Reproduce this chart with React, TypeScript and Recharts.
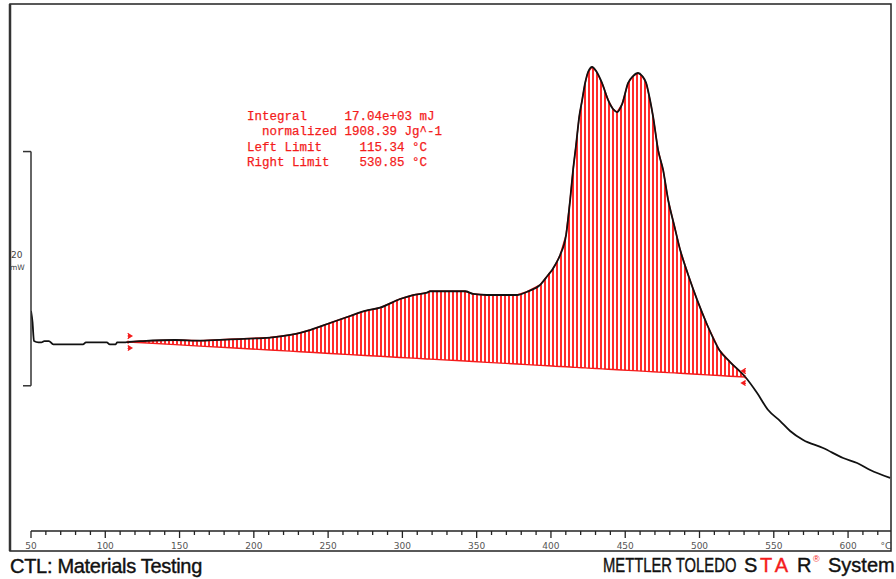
import React from 'react';
import {
  ComposedChart,
  Line,
  Area,
  XAxis,
  YAxis,
  ReferenceLine,
  ReferenceDot,
} from 'recharts';

// Temperature (°C)
const temperature = [
  50, 51, 52, 55, 57, 59, 62, 65, 85, 87,
  101, 103, 107, 108, 113, 115.34,
  125.4, 147.0, 163.8, 184.0, 210.9, 224.4, 231.1, 237.8, 251.3, 264.8,
  274.9, 285.0, 298.4, 307.2, 316.6, 318.6, 342.2, 347.6, 357.0, 377.2,
  383.9, 392.7, 398.1, 400.8, 402.8, 406.2, 410.2, 412.9, 414.9, 416.9,
  419.0, 421.0, 423.0, 425.0, 427.7, 430.4, 434.4, 438.5, 441.8, 444.5,
  447.9, 451.9, 455.3, 458.6, 461.4, 464.1, 466.7, 468.8, 472.1, 475.5,
  478.9, 482.9, 487.0, 492.4, 498.4, 505.2, 513.3, 520.6, 530.85,
  538.8, 546.2, 554.3, 561.0, 569.8, 583.2, 596.7, 606.1, 614.9, 628.3,
];

// DSC heat flow (mW, arbitrary offset)
const heatFlow = [
  18.79, 17.85, 16.22, 16.11, 16.11, 16.22, 16.22, 15.94, 15.94, 16.11,
  16.11, 15.93, 15.94, 16.11, 16.11, 16.14,
  16.22, 16.31, 16.25, 16.37, 16.52, 16.74, 16.91, 17.16, 17.76, 18.36,
  18.79, 19.07, 19.81, 20.15, 20.35, 20.47, 20.47, 20.24, 20.15, 20.15,
  20.43, 21.01, 21.86, 22.29, 22.71, 23.57, 25.28, 28.26, 30.83, 32.96,
  35.35, 36.8, 38.25, 39.19, 39.62, 39.28, 38.25, 36.8, 36.03, 35.77,
  36.45, 38.25, 38.85, 39.11, 38.85, 38.25, 36.8, 35.35, 32.54, 30.83,
  28.26, 26.13, 23.99, 21.86, 19.73, 17.59, 15.46, 14.43, 13.15,
  11.78, 10.33, 9.39, 8.54, 7.77, 7.09, 6.23, 5.81, 5.21, 4.53,
];

// Integration baseline (mW), only between the left and right limits
const baseline: (number | null)[] = [
  null, null, null, null, null, null, null, null, null, null,
  null, null, null, null, null, 16.14,
  16.07, 15.91, 15.79, 15.65, 15.45, 15.36, 15.31, 15.26, 15.16, 15.06,
  14.99, 14.92, 14.82, 14.76, 14.69, 14.68, 14.51, 14.47, 14.40, 14.26,
  14.21, 14.14, 14.11, 14.09, 14.07, 14.05, 14.02, 14.00, 13.98, 13.97,
  13.95, 13.94, 13.93, 13.91, 13.89, 13.87, 13.84, 13.81, 13.79, 13.77,
  13.75, 13.72, 13.69, 13.67, 13.65, 13.63, 13.61, 13.60, 13.57, 13.55,
  13.52, 13.50, 13.47, 13.43, 13.38, 13.33, 13.28, 13.22, 13.15,
  null, null, null, null, null, null, null, null, null, null,
];

const xTicks = [
  50, 60, 70, 80, 90, 100, 110, 120, 130, 140, 150, 160, 170, 180, 190, 200,
  210, 220, 230, 240, 250, 260, 270, 280, 290, 300, 310, 320, 330, 340, 350,
  360, 370, 380, 390, 400, 410, 420, 430, 440, 450, 460, 470, 480, 490, 500,
  510, 520, 530, 540, 550, 560, 570, 580, 590, 600, 610, 620,
];

const leftLimit = { t: 115.34, v: 16.14 };
const rightLimit = { t: 530.85, v: 13.15 };
const scaleBar = { low: 12.4, high: 32.4, label: ['20', 'mW'] };

const annotation = [
  'Integral     17.04e+03 mJ',
  '  normalized 1908.39 Jg^-1',
  'Left Limit     115.34 °C',
  'Right Limit    530.85 °C',
];

const data = temperature.map((t, i) => ({
  t,
  hf: heatFlow[i],
  range: baseline[i] == null ? null : [baseline[i] as number, heatFlow[i]],
}));

const RED = '#f41c1c';

const AxisTick = (props: any) => {
  const { x, y, payload } = props;
  const v = payload.value as number;
  const major = v % 50 === 0;
  return (
    <g>
      <line x1={x} x2={x} y1={y} y2={y + (major ? 7 : 4)} stroke="#222" strokeWidth={1.3} />
      {major && (
        <text x={x} y={y + 18} textAnchor="middle" fontSize={9} fill="#555" fontFamily="DejaVu Sans">
          {v}
        </text>
      )}
      {v === 620 && (
        <text x={x + 8} y={y + 18} textAnchor="middle" fontSize={9} fill="#555" fontFamily="DejaVu Sans">
          °C
        </text>
      )}
    </g>
  );
};

const makeMarker = (dir: number) => (p: any) => {
  const { cx, cy } = p;
  return (
    <g fill={RED} stroke="none">
      <polygon points={`${cx},${cy - 9} ${cx + 5 * dir},${cy - 6} ${cx},${cy - 3}`} />
      <polygon points={`${cx},${cy + 3} ${cx + 5 * dir},${cy + 6} ${cx},${cy + 9}`} />
      <line x1={cx} x2={cx} y1={cy - 9} y2={cy + 9} stroke={RED} strokeWidth={1} strokeDasharray="1 1.5" />
    </g>
  );
};

const captionStyle = {
  fontSize: 20,
  fontFamily: 'Liberation Sans, Arial',
  strokeWidth: 0.4,
};

export default function App() {
  return (
    <div style={{ position: 'absolute', left: 0, top: 0, width: 896, height: 579, background: '#fff' }}>
      <ComposedChart
        width={896}
        height={579}
        data={data}
        margin={{ top: 4, right: 5, left: 31, bottom: 28 }}
      >
        <defs>
          <pattern id="hatch" width="4" height="8" patternUnits="userSpaceOnUse">
            <rect x="0" y="0" width="2" height="8" fill="#ff2b2b" />
          </pattern>
        </defs>
        <XAxis
          type="number"
          dataKey="t"
          domain={[50, 628.9]}
          ticks={xTicks}
          interval={0}
          allowDataOverflow
          height={20}
          axisLine={{ stroke: '#222', strokeWidth: 1.5 }}
          tickLine={false}
          tickSize={0}
          tickMargin={0}
          tick={<AxisTick />}
        />
        <YAxis hide type="number" domain={[0, 45]} allowDataOverflow />
        <Area
          type="linear"
          dataKey="range"
          fill="url(#hatch)"
          fillOpacity={1}
          stroke={RED}
          strokeWidth={1.4}
          isAnimationActive={false}
          dot={false}
          activeDot={false}
        />
        <Line
          type="monotone"
          dataKey="hf"
          stroke="#111"
          strokeWidth={1.8}
          dot={false}
          activeDot={false}
          isAnimationActive={false}
        />
        <ReferenceLine
          segment={[{ x: 50, y: scaleBar.low }, { x: 50, y: scaleBar.high }]}
          stroke="#333"
          strokeWidth={1.5}
          ifOverflow="visible"
        />
        <ReferenceLine
          segment={[{ x: 44.6, y: scaleBar.high }, { x: 50, y: scaleBar.high }]}
          stroke="#333"
          strokeWidth={1.5}
          ifOverflow="visible"
        />
        <ReferenceLine
          segment={[{ x: 44.6, y: scaleBar.low }, { x: 50, y: scaleBar.low }]}
          stroke="#333"
          strokeWidth={1.5}
          ifOverflow="visible"
        />
        <ReferenceDot x={leftLimit.t} y={leftLimit.v} r={3} shape={makeMarker(1)} />
        <ReferenceDot x={rightLimit.t} y={rightLimit.v} r={3} shape={makeMarker(-1)} />
      </ComposedChart>
      <svg
        width={896}
        height={579}
        style={{ position: 'absolute', left: 0, top: 0, pointerEvents: 'none' }}
      >
        <rect x={10} y={4} width={881} height={547} fill="none" stroke="#222" strokeWidth={1.5} />
        <line x1={10} x2={10} y1={4} y2={551} stroke="#333" strokeWidth={2.5} />
        <text x={11} y={258} fontSize={9} fill="#444" fontFamily="DejaVu Sans">{scaleBar.label[0]}</text>
        <text x={10} y={270} fontSize={7.5} fill="#444" fontFamily="DejaVu Sans">{scaleBar.label[1]}</text>
        {annotation.map((line, i) => (
          <text
            key={i}
            x={247}
            y={120 + i * 15.3}
            fontSize={12.5}
            fill={RED}
            stroke={RED}
            strokeWidth={0.25}
            fontFamily="Liberation Mono, monospace"
            xmlSpace="preserve"
            style={{ whiteSpace: 'pre' }}
          >
            {line}
          </text>
        ))}
        <text x={10} y={573} fill="#111" stroke="#111" letterSpacing={-0.3} {...captionStyle}>
          CTL: Materials Testing
        </text>
        <text
          x={0}
          y={0}
          transform="translate(603,572) scale(0.74,1)"
          fill="#111"
          stroke="#111"
          {...captionStyle}
        >
          METTLER TOLEDO
        </text>
        <text x={744} y={572} fill="#111" stroke="#111" {...captionStyle}>S</text>
        <text x={760} y={572} fill={RED} stroke={RED} letterSpacing={4} {...captionStyle}>TA</text>
        <text x={797} y={572} fill="#111" stroke="#111" {...captionStyle}>R</text>
        <text x={813} y={562} fontSize={9} fill={RED} fontFamily="Liberation Sans, Arial">®</text>
        <text x={828} y={572} fill="#111" stroke="#111" {...captionStyle}>System</text>
      </svg>
    </div>
  );
}
